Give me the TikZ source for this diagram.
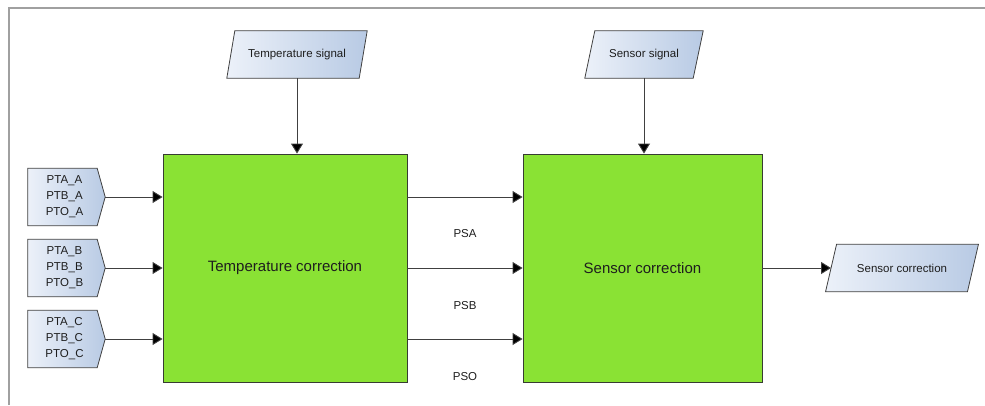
\documentclass[tikz,border=0pt]{standalone}
\usepackage{fontspec}
\setmainfont{Liberation Sans}
\usetikzlibrary{arrows.meta,backgrounds}
\definecolor{boxgreen}{RGB}{138,226,52}
\definecolor{boxedge}{RGB}{55,60,50}
\definecolor{shadeL}{RGB}{236,241,249}
\definecolor{shadeR}{RGB}{184,202,228}
\definecolor{frameg}{RGB}{160,160,160}
\definecolor{txt}{RGB}{30,30,30}
\tikzset{
  procbox/.style={draw=boxedge, line width=0.9pt, fill=boxgreen, minimum width=244pt, minimum height=228pt, inner sep=0pt, font=\fontsize{15}{17}\selectfont, text=txt},
  iobox/.style={rectangle, minimum height=47pt, inner sep=0pt, font=\fontsize{11.5}{13}\selectfont, text=txt},
  inbox/.style={rectangle, minimum width=77pt, minimum height=57pt, inner sep=0pt, align=center, font=\fontsize{11.5}{16}\selectfont, text=txt},
  shapefill/.style={draw=black!75, line width=0.8pt, left color=shadeL, right color=shadeR},
  conn/.style={draw=black!75, line width=0.9pt, -{Triangle[length=10pt,width=12pt,fill=black]}},
  lbl/.style={font=\fontsize{11.5}{13}\selectfont, text=txt, inner sep=0pt},
}
\newcommand{\myparallelogram}[2]{%
  \begin{scope}[on background layer]
  \path[shapefill] ([xshift=#2]#1.north west) -- ([xshift=#2]#1.north east) -- ([xshift=-#2]#1.south east) -- ([xshift=-#2]#1.south west) -- cycle;
  \end{scope}}
\newcommand{\myinshape}[1]{%
  \begin{scope}[on background layer]
  \path[shapefill] (#1.north west) -- ([xshift=-8pt]#1.north east) -- (#1.east) -- ([xshift=-8pt]#1.south east) -- (#1.south west) -- cycle;
  \end{scope}}
\begin{document}
\begin{tikzpicture}[x=1pt,y=-1pt]
\useasboundingbox (0,0) rectangle (985,405);
\draw[frameg, line width=1.5pt] (9,405) -- (9,8) -- (986,8);

\node[procbox] (tc) at (285,268) {Temperature correction};
\node[procbox, minimum width=239pt] (sc) at (642.5,268) {Sensor correction};

\node[iobox, minimum width=132pt] (ts) at (297,54.5) {Temperature signal};
\myparallelogram{ts}{4pt}
\node[iobox, minimum width=108pt] (ss) at (644,54.5) {Sensor signal};
\myparallelogram{ss}{5pt}
\node[iobox, minimum width=141.5pt] (so) at (902,268) {Sensor correction};
\myparallelogram{so}{5.5pt}

\node[inbox] (ina) at (66.5,197) {\hspace*{-4pt}PTA\_A\\\hspace*{-4pt}PTB\_A\\\hspace*{-4pt}PTO\_A};
\myinshape{ina}
\node[inbox] (inb) at (66.5,268) {\hspace*{-4pt}PTA\_B\\\hspace*{-4pt}PTB\_B\\\hspace*{-4pt}PTO\_B};
\myinshape{inb}
\node[inbox] (inc) at (66.5,339) {\hspace*{-4pt}PTA\_C\\\hspace*{-4pt}PTB\_C\\\hspace*{-4pt}PTO\_C};
\myinshape{inc}

\draw[conn] (ts.south) -- (ts.south |- tc.north);
\draw[conn] (ss.south) -- (ss.south |- sc.north);

\draw[conn] (ina.east) -- (ina.east -| tc.west);
\draw[conn] (inb.east) -- (inb.east -| tc.west);
\draw[conn] (inc.east) -- (inc.east -| tc.west);

\draw[conn] (tc.east |- ina.east) -- (sc.west |- ina.east);
\draw[conn] (tc.east |- inb.east) -- (sc.west |- inb.east);
\draw[conn] (tc.east |- inc.east) -- (sc.west |- inc.east);

\draw[conn] (sc.east) -- (so.west);

\node[lbl] (psa) at (465,234) {PSA};
\node[lbl] (psb) at (465,306) {PSB};
\node[lbl] (pso) at (465,377) {PSO};
\end{tikzpicture}
\end{document}
